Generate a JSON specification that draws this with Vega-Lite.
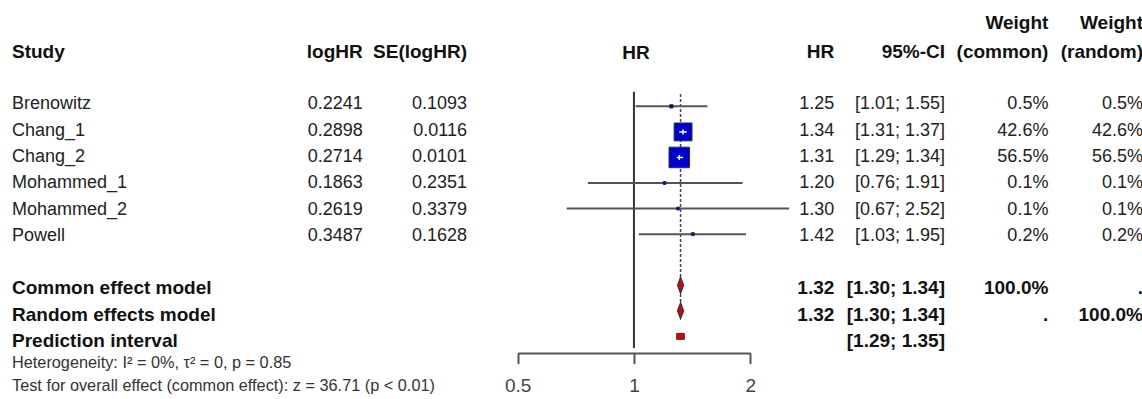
{
  "$schema": "https://vega.github.io/schema/vega-lite/v6.json",
  "padding": {"left": 12, "top": 0, "right": 0, "bottom": 0},
  "spacing": 0,
  "bounds": "flush",
  "config": {"view": {"stroke": null}, "font": "Liberation Sans"},
  "resolve": {"scale": {"x": "independent", "y": "independent", "size": "independent"}},
  "datasets": {
    "studies": [
      {"study": "Brenowitz", "logHR": "0.2241", "se": "0.1093", "hr": 1.25, "lo": 1.01, "hi": 1.55, "hrText": "1.25", "ciText": "[1.01; 1.55]", "wc": 0.5, "wcText": "0.5%", "wrText": "0.5%", "row": 2},
      {"study": "Chang_1", "logHR": "0.2898", "se": "0.0116", "hr": 1.34, "lo": 1.31, "hi": 1.37, "hrText": "1.34", "ciText": "[1.31; 1.37]", "wc": 42.6, "wcText": "42.6%", "wrText": "42.6%", "row": 3},
      {"study": "Chang_2", "logHR": "0.2714", "se": "0.0101", "hr": 1.31, "lo": 1.29, "hi": 1.34, "hrText": "1.31", "ciText": "[1.29; 1.34]", "wc": 56.5, "wcText": "56.5%", "wrText": "56.5%", "row": 4},
      {"study": "Mohammed_1", "logHR": "0.1863", "se": "0.2351", "hr": 1.20, "lo": 0.76, "hi": 1.91, "hrText": "1.20", "ciText": "[0.76; 1.91]", "wc": 0.1, "wcText": "0.1%", "wrText": "0.1%", "row": 5},
      {"study": "Mohammed_2", "logHR": "0.2619", "se": "0.3379", "hr": 1.30, "lo": 0.67, "hi": 2.52, "hrText": "1.30", "ciText": "[0.67; 2.52]", "wc": 0.1, "wcText": "0.1%", "wrText": "0.1%", "row": 6},
      {"study": "Powell", "logHR": "0.3487", "se": "0.1628", "hr": 1.42, "lo": 1.03, "hi": 1.95, "hrText": "1.42", "ciText": "[1.03; 1.95]", "wc": 0.2, "wcText": "0.2%", "wrText": "0.2%", "row": 7}
    ],
    "summary": [
      {"label": "Common effect model", "hr": 1.32, "lo": 1.30, "hi": 1.34, "hrText": "1.32", "ciText": "[1.30; 1.34]", "wcText": "100.0%", "wrText": ".", "row": 9},
      {"label": "Random effects model", "hr": 1.32, "lo": 1.30, "hi": 1.34, "hrText": "1.32", "ciText": "[1.30; 1.34]", "wcText": ".", "wrText": "100.0%", "row": 10},
      {"label": "Prediction interval", "lo": 1.29, "hi": 1.35, "hrText": "", "ciText": "[1.29; 1.35]", "wcText": "", "wrText": "", "row": 11}
    ]
  },
  "hconcat": [
    {
      "width": 350.7, "height": 399,
      "layer": [
        {"data": {"name": "studies"},
         "mark": {"type": "text", "align": "left", "baseline": "middle", "fontSize": 18, "color": "#222"},
         "encoding": {
           "x": {"datum": 0, "type": "quantitative", "scale": {"domain": [0, 1], "nice": false, "zero": false}, "axis": null},
           "y": {"field": "row", "type": "quantitative", "scale": {"domain": [-1.966, 13.205], "reverse": true, "nice": false, "zero": false}, "axis": null},
           "text": {"field": "study"}}},
        {"data": {"name": "studies"},
         "mark": {"type": "text", "align": "right", "baseline": "middle", "fontSize": 18, "color": "#222"},
         "encoding": {
           "x": {"datum": 1, "type": "quantitative"},
           "y": {"field": "row", "type": "quantitative"},
           "text": {"field": "logHR"}}},
        {"data": {"name": "summary"},
         "mark": {"type": "text", "align": "left", "baseline": "middle", "fontSize": 19, "fontWeight": "bold", "color": "#111"},
         "encoding": {
           "x": {"datum": 0, "type": "quantitative"},
           "y": {"field": "row", "type": "quantitative"},
           "text": {"field": "label"}}},
        {"data": {"values": [{}]},
         "mark": {"type": "text", "align": "left", "baseline": "middle", "fontSize": 19, "fontWeight": "bold", "color": "#111", "text": "Study"},
         "encoding": {"x": {"datum": 0, "type": "quantitative"}, "y": {"datum": 0, "type": "quantitative"}}},
        {"data": {"values": [{}]},
         "mark": {"type": "text", "align": "right", "baseline": "middle", "fontSize": 19, "fontWeight": "bold", "color": "#111", "text": "logHR"},
         "encoding": {"x": {"datum": 1, "type": "quantitative"}, "y": {"datum": 0, "type": "quantitative"}}},
        {"data": {"values": [{}]},
         "mark": {"type": "text", "align": "left", "baseline": "middle", "fontSize": 16.3, "color": "#333", "text": "Heterogeneity: I² = 0%, τ² = 0, p = 0.85"},
         "encoding": {"x": {"datum": 0, "type": "quantitative"}, "y": {"datum": 11.82, "type": "quantitative"}}},
        {"data": {"values": [{}]},
         "mark": {"type": "text", "align": "left", "baseline": "middle", "fontSize": 16.3, "color": "#333", "text": "Test for overall effect (common effect): z = 36.71 (p < 0.01)"},
         "encoding": {"x": {"datum": 0, "type": "quantitative"}, "y": {"datum": 12.72, "type": "quantitative"}}}
      ]
    },
    {
      "width": 104, "height": 399,
      "layer": [
        {"data": {"name": "studies"},
         "mark": {"type": "text", "align": "right", "baseline": "middle", "fontSize": 18, "color": "#222"},
         "encoding": {
           "x": {"datum": 1, "type": "quantitative", "scale": {"domain": [0, 1], "nice": false, "zero": false}, "axis": null},
           "y": {"field": "row", "type": "quantitative", "scale": {"domain": [-1.966, 13.205], "reverse": true, "nice": false, "zero": false}, "axis": null},
           "text": {"field": "se"}}},
        {"data": {"values": [{}]},
         "mark": {"type": "text", "align": "right", "baseline": "middle", "fontSize": 19, "fontWeight": "bold", "color": "#111", "text": "SE(logHR)"},
         "encoding": {"x": {"datum": 1, "type": "quantitative"}, "y": {"datum": 0, "type": "quantitative"}}}
      ]
    },
    {
      "width": 328.3, "height": 353,
      "layer": [
        {"data": {"values": [{}]},
         "mark": {"type": "rule", "color": "#333", "strokeWidth": 2},
         "encoding": {
           "x": {"datum": 1, "type": "quantitative",
                 "scale": {"type": "log", "domain": [0.5, 2], "range": [50.6, 283.3], "nice": false},
                 "axis": {"values": [0.5, 1, 2], "format": "~g", "title": null, "grid": false, "domainColor": "#555", "domainWidth": 2, "tickColor": "#555", "tickWidth": 2, "tickSize": 10.6, "labelFontSize": 19, "labelColor": "#444", "labelPadding": 13, "labelFont": "Liberation Sans", "labelFlush": false, "labelOverlap": false}},
           "y": {"datum": 1.43, "type": "quantitative", "scale": {"domain": [-1.966, 11.456], "reverse": true, "nice": false, "zero": false}, "axis": null},
           "y2": {"datum": 11.456}}},
        {"data": {"name": "summary"},
         "transform": [{"filter": "datum.row == 9"}],
         "mark": {"type": "rule", "color": "#444", "strokeWidth": 1.5, "strokeDash": [3, 2]},
         "encoding": {
           "x": {"field": "hr", "type": "quantitative", "title": null},
           "y": {"datum": 1.52, "type": "quantitative"},
           "y2": {"datum": 10.23}}},
        {"data": {"name": "studies"},
         "mark": {"type": "rule", "color": "#555", "strokeWidth": 2},
         "encoding": {
           "x": {"field": "lo", "type": "quantitative", "title": null},
           "x2": {"field": "hi"},
           "y": {"field": "row", "type": "quantitative"}}},
        {"data": {"name": "studies"},
         "mark": {"type": "square", "color": "#0000cc", "opacity": 1, "stroke": "#2a2a50", "strokeWidth": 1},
         "encoding": {
           "x": {"field": "hr", "type": "quantitative", "title": null},
           "y": {"field": "row", "type": "quantitative"},
           "size": {"field": "wc", "type": "quantitative", "scale": {"domain": [0, 56.5], "range": [7, 420], "zero": false}, "legend": null}}},
        {"data": {"name": "studies"},
         "transform": [{"filter": "datum.wc > 10"}],
         "mark": {"type": "rule", "color": "white", "strokeWidth": 1.5},
         "encoding": {
           "x": {"field": "lo", "type": "quantitative", "title": null},
           "x2": {"field": "hi"},
           "y": {"field": "row", "type": "quantitative"}}},
        {"data": {"name": "studies"},
         "transform": [{"filter": "datum.wc > 10"}],
         "mark": {"type": "point", "shape": "M0,-1L0,1", "size": 25, "filled": false, "stroke": "white", "strokeWidth": 1.5, "opacity": 1},
         "encoding": {
           "x": {"field": "hr", "type": "quantitative", "title": null},
           "y": {"field": "row", "type": "quantitative"}}},
        {"data": {"name": "summary"},
         "transform": [{"filter": "datum.row <= 10"}],
         "mark": {"type": "point", "shape": "M0,-1L0.375,0L0,1L-0.375,0Z", "size": 256, "filled": true, "fill": "#dd0000", "stroke": "#333", "strokeWidth": 1.2, "opacity": 1},
         "encoding": {
           "x": {"field": "hr", "type": "quantitative", "title": null},
           "y": {"field": "row", "type": "quantitative"}}},
        {"data": {"name": "summary"},
         "transform": [{"filter": "datum.row == 11"}],
         "mark": {"type": "bar", "height": 6, "fill": "#dd0000", "stroke": "#333", "strokeWidth": 1},
         "encoding": {
           "x": {"field": "lo", "type": "quantitative", "title": null},
           "x2": {"field": "hi"},
           "y": {"field": "row", "type": "quantitative"}}},
        {"data": {"values": [{}]},
         "mark": {"type": "text", "align": "center", "baseline": "middle", "fontSize": 19, "fontWeight": "bold", "color": "#111", "text": "HR", "dx": 2, "dy": -2},
         "encoding": {"x": {"datum": 1, "type": "quantitative"}, "y": {"datum": 0, "type": "quantitative"}}}
      ]
    },
    {
      "width": 38.3, "height": 399,
      "layer": [
        {"data": {"name": "studies"},
         "mark": {"type": "text", "align": "right", "baseline": "middle", "fontSize": 18, "color": "#222"},
         "encoding": {
           "x": {"datum": 1, "type": "quantitative", "scale": {"domain": [0, 1], "nice": false, "zero": false}, "axis": null},
           "y": {"field": "row", "type": "quantitative", "scale": {"domain": [-1.966, 13.205], "reverse": true, "nice": false, "zero": false}, "axis": null},
           "text": {"field": "hrText"}}},
        {"data": {"name": "summary"},
         "mark": {"type": "text", "align": "right", "baseline": "middle", "fontSize": 19, "fontWeight": "bold", "color": "#111"},
         "encoding": {"x": {"datum": 1, "type": "quantitative"}, "y": {"field": "row", "type": "quantitative"}, "text": {"field": "hrText"}}},
        {"data": {"values": [{}]},
         "mark": {"type": "text", "align": "right", "baseline": "middle", "fontSize": 19, "fontWeight": "bold", "color": "#111", "text": "HR"},
         "encoding": {"x": {"datum": 1, "type": "quantitative"}, "y": {"datum": 0, "type": "quantitative"}}}
      ]
    },
    {
      "width": 110, "height": 399,
      "layer": [
        {"data": {"name": "studies"},
         "mark": {"type": "text", "align": "right", "baseline": "middle", "fontSize": 18, "color": "#222"},
         "encoding": {
           "x": {"datum": 1, "type": "quantitative", "scale": {"domain": [0, 1], "nice": false, "zero": false}, "axis": null},
           "y": {"field": "row", "type": "quantitative", "scale": {"domain": [-1.966, 13.205], "reverse": true, "nice": false, "zero": false}, "axis": null},
           "text": {"field": "ciText"}}},
        {"data": {"name": "summary"},
         "mark": {"type": "text", "align": "right", "baseline": "middle", "fontSize": 19, "fontWeight": "bold", "color": "#111"},
         "encoding": {"x": {"datum": 1, "type": "quantitative"}, "y": {"field": "row", "type": "quantitative"}, "text": {"field": "ciText"}}},
        {"data": {"values": [{}]},
         "mark": {"type": "text", "align": "right", "baseline": "middle", "fontSize": 19, "fontWeight": "bold", "color": "#111", "text": "95%-CI"},
         "encoding": {"x": {"datum": 1, "type": "quantitative"}, "y": {"datum": 0, "type": "quantitative"}}}
      ]
    },
    {
      "width": 103.4, "height": 399,
      "layer": [
        {"data": {"name": "studies"},
         "mark": {"type": "text", "align": "right", "baseline": "middle", "fontSize": 18, "color": "#222"},
         "encoding": {
           "x": {"datum": 1, "type": "quantitative", "scale": {"domain": [0, 1], "nice": false, "zero": false}, "axis": null},
           "y": {"field": "row", "type": "quantitative", "scale": {"domain": [-1.966, 13.205], "reverse": true, "nice": false, "zero": false}, "axis": null},
           "text": {"field": "wcText"}}},
        {"data": {"name": "summary"},
         "mark": {"type": "text", "align": "right", "baseline": "middle", "fontSize": 19, "fontWeight": "bold", "color": "#111"},
         "encoding": {"x": {"datum": 1, "type": "quantitative"}, "y": {"field": "row", "type": "quantitative"}, "text": {"field": "wcText"}}},
        {"data": {"values": [{}]},
         "mark": {"type": "text", "align": "right", "baseline": "middle", "fontSize": 19, "fontWeight": "bold", "color": "#111", "text": "(common)"},
         "encoding": {"x": {"datum": 1, "type": "quantitative"}, "y": {"datum": 0, "type": "quantitative"}}},
        {"data": {"values": [{}]},
         "mark": {"type": "text", "align": "right", "baseline": "middle", "fontSize": 19, "fontWeight": "bold", "color": "#111", "text": "Weight", "dy": -2},
         "encoding": {"x": {"datum": 1, "type": "quantitative"}, "y": {"datum": -1, "type": "quantitative"}}}
      ]
    },
    {
      "width": 94, "height": 399,
      "layer": [
        {"data": {"name": "studies"},
         "mark": {"type": "text", "align": "right", "baseline": "middle", "fontSize": 18, "color": "#222"},
         "encoding": {
           "x": {"datum": 1, "type": "quantitative", "scale": {"domain": [0, 1], "nice": false, "zero": false}, "axis": null},
           "y": {"field": "row", "type": "quantitative", "scale": {"domain": [-1.966, 13.205], "reverse": true, "nice": false, "zero": false}, "axis": null},
           "text": {"field": "wrText"}}},
        {"data": {"name": "summary"},
         "mark": {"type": "text", "align": "right", "baseline": "middle", "fontSize": 19, "fontWeight": "bold", "color": "#111"},
         "encoding": {"x": {"datum": 1, "type": "quantitative"}, "y": {"field": "row", "type": "quantitative"}, "text": {"field": "wrText"}}},
        {"data": {"values": [{}]},
         "mark": {"type": "text", "align": "right", "baseline": "middle", "fontSize": 19, "fontWeight": "bold", "color": "#111", "text": "(random)"},
         "encoding": {"x": {"datum": 1, "type": "quantitative"}, "y": {"datum": 0, "type": "quantitative"}}},
        {"data": {"values": [{}]},
         "mark": {"type": "text", "align": "right", "baseline": "middle", "fontSize": 19, "fontWeight": "bold", "color": "#111", "text": "Weight", "dy": -2},
         "encoding": {"x": {"datum": 1, "type": "quantitative"}, "y": {"datum": -1, "type": "quantitative"}}}
      ]
    }
  ]
}
